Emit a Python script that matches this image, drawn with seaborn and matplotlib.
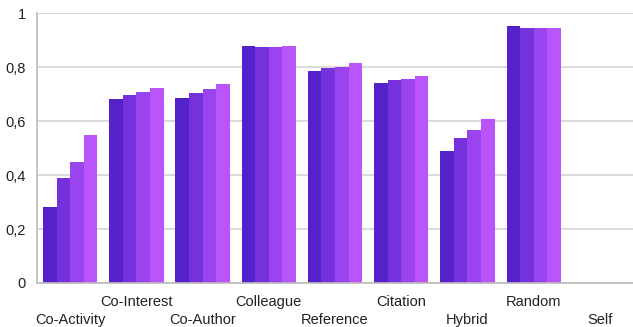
import pandas as pd
import matplotlib
matplotlib.use("Agg")
import matplotlib.pyplot as plt
import seaborn as sns

# Werte
kategorien = ["Co-Activity", "Co-Interest", "Co-Author", "Colleague", "Reference",
              "Citation", "Hybrid", "Random", "Self"]
serie_1 = [0.28, 0.68, 0.685, 0.878, 0.785, 0.741, 0.489, 0.952, 0.0]
serie_2 = [0.39, 0.695, 0.703, 0.874, 0.796, 0.752, 0.537, 0.944, 0.0]
serie_3 = [0.45, 0.707, 0.718, 0.874, 0.800, 0.755, 0.567, 0.944, 0.0]
serie_4 = [0.55, 0.722, 0.737, 0.878, 0.815, 0.767, 0.607, 0.944, 0.0]
serien = ["1", "2", "3", "4"]
farben = ["#5521CB", "#7431DC", "#9944EE", "#BA55FB"]
y_ticks = [0, 0.2, 0.4, 0.6, 0.8, 1.0]
y_labels = ["0", "0,2", "0,4", "0,6", "0,8", "1"]

# Long-Format fuer seaborn
zeilen = []
for name, werte in zip(serien, [serie_1, serie_2, serie_3, serie_4]):
    for k, v in zip(kategorien, werte):
        zeilen.append({"Kategorie": k, "Serie": name, "Wert": v})
df = pd.DataFrame(zeilen)

sns.set_style("white")
plt.rcParams["font.family"] = ["Liberation Sans", "DejaVu Sans"]

fig = plt.figure(figsize=(6.33, 3.27), dpi=100)
ax = fig.add_axes([0.0585, 0.1346, 0.9415, 0.8254])

sns.barplot(data=df, x="Kategorie", y="Wert", hue="Serie", order=kategorien,
            hue_order=serien, palette=farben, width=0.82, gap=0,
            saturation=1, linewidth=0, legend=False, ax=ax)

ax.set_xlim(-0.5, len(kategorien) - 0.5)
ax.set_ylim(0, 1.0)
ax.set_yticks(y_ticks)
ax.set_yticklabels(y_labels, fontsize=10.5, color="#222222")
ax.yaxis.grid(True, color="#d4d4d4", linewidth=1.2)
ax.set_axisbelow(True)

# Beschriftungen abwechselnd hoch/tief
ax.set_xticks(range(len(kategorien)))
labels = [("\n" + k) if i % 2 == 0 else k for i, k in enumerate(kategorien)]
ax.set_xticklabels(labels, fontsize=10.5, color="#222222", va="top",
                   linespacing=1.32)
ax.tick_params(axis="x", length=0, pad=9)
ax.set_xticks([i - 0.5 for i in range(len(kategorien) + 1)], minor=True)
ax.tick_params(axis="x", which="minor", length=5, color="#bbbbbb", width=1.2)
ax.tick_params(axis="y", length=5, color="#bbbbbb", width=1.2, pad=3)

for s in ["top", "right"]:
    ax.spines[s].set_visible(False)
for s in ["left", "bottom"]:
    ax.spines[s].set_color("#bbbbbb")
    ax.spines[s].set_linewidth(1.2)

ax.set_xlabel("")
ax.set_ylabel("")

fig.savefig("out.png", dpi=100)
